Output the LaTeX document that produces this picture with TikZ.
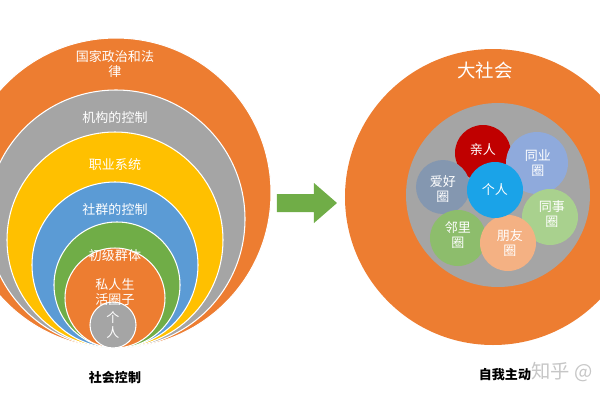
\documentclass[tikz,border=0pt]{standalone}
\usepackage{fontspec}
\setmainfont{Noto Sans CJK SC}
\begin{document}
\begin{tikzpicture}[x=0.02cm,y=-0.02cm,
  ring/.style={draw=white,line width=0.6pt},
  lab/.style={text=white,font=\fontsize{7.4}{8.6}\selectfont,align=center,inner sep=0pt},
  blab/.style={text=black,font=\bfseries\fontsize{7.4}{8.6}\selectfont,inner sep=0pt}]
\definecolor{org}{HTML}{ED7D31}
\definecolor{gry}{HTML}{A5A5A5}
\definecolor{yel}{HTML}{FFC000}
\definecolor{blu}{HTML}{5B9BD5}
\definecolor{grn}{HTML}{70AD47}
\definecolor{red1}{HTML}{C00000}
\definecolor{lb}{HTML}{8FAADC}
\definecolor{gb}{HTML}{8497B0}
\definecolor{cy}{HTML}{1AA3E8}
\definecolor{lg}{HTML}{A9D18E}
\definecolor{pch}{HTML}{F4B183}
\useasboundingbox (0,0) rectangle (600,400);
\begin{scope}
\clip (0,0) rectangle (600,400);
\fill[org,ring] (116,193) circle (155);
\fill[gry,ring] (116,219) circle (129);
\fill[yel,ring] (115,240) circle (108);
\fill[blu,ring] (115,265) circle (83);
\fill[grn,ring] (117,285) circle (63);
\fill[org,ring] (115,298) circle (50);
\fill[gry,ring] (113,325) circle (23);
\fill[org] (493,197) circle (148);
\fill[gry] (498,195) circle (92);
\end{scope}
\node[lab] (t1) at (115,64) {国家政治和法\\律};
\node[lab] (t2) at (115,118) {机构的控制};
\node[lab] (t3) at (115,165) {职业系统};
\node[lab] (t4) at (115,210) {社群的控制};
\node[lab] (t5) at (115,256) {初级群体};
\node[lab] (t6) at (115,292) {私人生\\活圈子};
\node[lab] (t7) at (113,325) {个\\人};
\node[blab] (b1) at (115,378) {社会控制};
% arrow
\fill[grn] (277,194) -- (314,194) -- (314,183) -- (337,203) -- (314,223) -- (314,212) -- (277,212) -- cycle;
\node[lab,font=\fontsize{10.5}{12}\selectfont] (big) at (485,70) {大社会};
\fill[red1] (483,153) circle (28);
\fill[lb] (537,163) circle (31);
\fill[gb] (443,187) circle (27);
\fill[lg] (550,217) circle (28);
\fill[grn!80!white] (458,238) circle (28);
\fill[pch] (508,243) circle (28);
\fill[cy] (495,190) circle (28);
\node[lab] at (483,150) {亲人};
\node[lab] at (538,163) {同业\\圈};
\node[lab] at (443,189) {爱好\\圈};
\node[lab] at (495,190) {个人};
\node[lab] at (552,214) {同事\\圈};
\node[lab] at (458,235) {邻里\\圈};
\node[lab] at (510,243) {朋友\\圈};
\node[blab] (b2) at (505,375) {自我主动};
\node[blab,text=gray!45,font=\fontsize{11}{12}\selectfont,anchor=west] (w) at (531,372) {知乎 @};
\end{tikzpicture}
\end{document}
